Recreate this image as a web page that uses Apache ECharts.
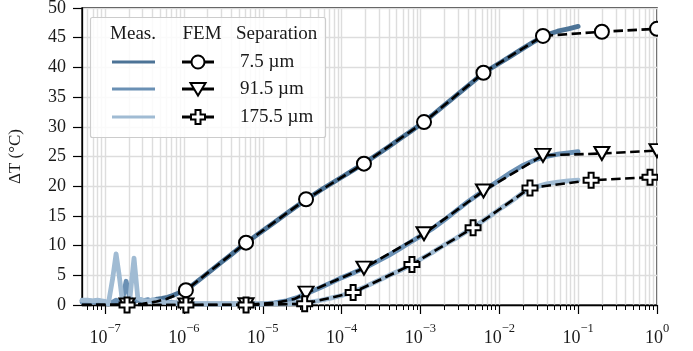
<!DOCTYPE html>
<html>
<head>
<meta charset="utf-8">
<script src="https://cdn.jsdelivr.net/npm/echarts@6/dist/echarts.min.js"></script>
<style>
html,body{margin:0;padding:0;background:#fff;}
#chart{width:693px;height:351px;}
</style>
</head>
<body>
<div id="chart"></div>
<script>
// ---------------- data ----------------
const xMin = 5.1e-8;
const xMax = 1;
const majorTicks = [1e-7, 1e-6, 1e-5, 1e-4, 1e-3, 1e-2, 1e-1, 1];
const yTicksMax = 50;

const headerLabels = ['Meas.', 'FEM', 'Separation'];
const sepLabels = ['7.5 µm', '91.5 µm', '175.5 µm'];

// measurement time grid (s)
const measT = [5.1e-8, 6e-8, 7e-8, 8e-8, 9e-8, 1.0e-7, 1.1e-7, 1.25e-7, 1.38e-7, 1.5e-7,
  1.65e-7, 1.85e-7, 2.05e-7, 2.33e-7, 2.6e-7, 3e-7, 3.5e-7, 4e-7, 4.6e-7, 5.3e-7,
  6.2e-7, 7.2e-7, 8.5e-7, 1.0e-6, 1.3e-6, 1.7e-6, 2.2e-6, 3e-6, 4e-6, 5.5e-6,
  7.5e-6, 1e-5, 1.4e-5, 2e-5, 2.8e-5, 4e-5, 5.5e-5, 7.5e-5, 1e-4, 1.4e-4,
  2e-4, 2.8e-4, 4e-4, 5.5e-4, 7.5e-4, 1e-3, 1.4e-3, 2e-3, 2.8e-3, 4e-3,
  5.5e-3, 7.5e-3, 1e-2, 1.4e-2, 2e-2, 2.8e-2, 4e-2, 5.5e-2, 7.5e-2, 1e-1];

const meas7 = [0.7, 0.7, 0.6, 0.7, 0.6, 0.5, 0.2, 0.3, 0.4, 0.6,
  0.5, 0.8, 0.4, 0.5, 0.9, 0.6, 0.8, 0.7, 1.0, 1.1,
  1.3, 1.6, 2.0, 2.3, 3.4, 4.6, 5.8, 7.2, 8.5, 10.0,
  11.3, 12.5, 13.9, 15.4, 16.8, 18.2, 19.4, 20.5, 21.5, 22.7,
  24.0, 25.3, 26.7, 28.0, 29.2, 30.4, 31.9, 33.6, 35.2, 36.9,
  38.4, 39.7, 40.7, 41.9, 43.2, 44.4, 45.5, 46.1, 46.5, 46.9];

const meas91 = [0.5, 0.6, 0.5, 0.5, 0.4, 0.3, 0.2, 0.5, 0.8, 0.6,
  0.6, 4.0, 1.2, 0.6, 1.0, 0.7, 0.9, 0.6, 0.8, 0.6,
  0.5, 0.4, 0.3, 0.3, 0.2, 0.2, 0.2, 0.2, 0.2, 0.2,
  0.2, 0.2, 0.35, 0.7, 1.3, 2.2, 3.0, 3.8, 4.6, 5.4,
  6.3, 7.3, 8.4, 9.5, 10.6, 11.6, 12.8, 14.3, 15.8, 17.4,
  18.7, 19.9, 21.0, 22.3, 23.5, 24.4, 25.0, 25.4, 25.6, 25.8];

const meas175 = [0.8, 0.8, 0.7, 0.8, 0.7, 0.6, 0.2, 4.5, 8.6, 5.3,
  0.9, 0.6, 0.7, 7.9, 1.2, 0.8, 0.6, 0.9, 0.7, 0.5,
  0.4, 0.3, 0.2, 0.2, 0.2, 0.2, 0.2, 0.2, 0.2, 0.2,
  0.2, 0.2, 0.2, 0.2, 0.3, 0.5, 0.8, 1.2, 1.6, 2.2,
  3.1, 4.0, 5.0, 5.8, 6.7, 7.7, 8.8, 10.1, 11.2, 12.5,
  13.7, 14.9, 16.1, 17.4, 18.9, 19.8, 20.4, 20.7, 20.9, 21.0];

// FEM simulations
const femT7 = [5.1e-8, 1.9e-7, 3e-7, 4.5e-7, 6e-7, 8e-7, 1.06e-6, 6.14e-6, 3.54e-5, 1.92e-4, 1.11e-3, 6.3e-3, 0.0358, 0.2, 1];
const fem7  = [0, 0.05, 0.2, 0.6, 1.0, 1.7, 2.5, 10.5, 17.8, 23.8, 30.8, 39.1, 45.3, 46.0, 46.5];
const mark7 = [6, 7, 8, 9, 10, 11, 12, 13, 14];

const femT91 = [5.1e-8, 1.9e-7, 1.06e-6, 6.14e-6, 1.5e-5, 2.5e-5, 3.54e-5, 1.92e-4, 1.11e-3, 6.3e-3, 0.0358, 0.2, 1];
const fem91  = [0, 0, 0, 0.05, 0.4, 1.0, 2.0, 6.2, 12.0, 19.2, 25.2, 25.5, 26.0];
const mark91 = [1, 2, 3, 6, 7, 8, 9, 10, 11, 12];

const femT175 = [5.1e-8, 1.9e-7, 1.06e-6, 6.14e-6, 3.4e-5, 1.4e-4, 7.8e-4, 4.65e-3, 0.0245, 0.146, 0.815, 1];
const fem175  = [0, 0, 0, 0, 0.2, 2.1, 6.8, 13.0, 19.7, 21.0, 21.5, 21.5];
const mark175 = [1, 2, 3, 4, 5, 6, 7, 8, 9, 10];

// ---------------- styling ----------------
const FONT = '"Liberation Serif", "DejaVu Serif", serif';
const colMeas = ['#4c7396', '#6a90b4', '#a0bbd3'];
const PLUS = 'path://M-1,-3L1,-3L1,-1L3,-1L3,1L1,1L1,3L-1,3L-1,1L-3,1L-3,-1L-1,-1Z';
const symDefs = [
  { symbol: 'circle', size: 14, rotate: 0 },
  { symbol: 'triangle', size: [15, 13], rotate: 180 },
  { symbol: PLUS, size: 15, rotate: 0 }
];

const minorTicks = [];
majorTicks.concat([1e-8]).forEach(function (m) {
  for (let k = 2; k <= 9; k++) {
    const v = m * k;
    if (v >= xMin && v <= xMax) minorTicks.push(v);
  }
});
const allTicks = minorTicks.concat(majorTicks).sort(function (a, b) { return a - b; });

function measSeries(vals, color) {
  return {
    type: 'line', xAxisIndex: 0, yAxisIndex: 0,
    data: measT.map(function (t, i) { return [t, vals[i]]; }),
    showSymbol: false, smooth: false, clip: true,
    lineStyle: { color: color, width: 4.8, cap: 'round', join: 'round' },
    z: 2, silent: true
  };
}
function femSeries(ts, vals, marks, def, zz) {
  return {
    type: 'line', xAxisIndex: 0, yAxisIndex: 0,
    data: ts.map(function (t, i) {
      const isMark = marks.indexOf(i) >= 0;
      return {
        value: [t, vals[i]],
        symbol: isMark ? def.symbol : 'none',
        symbolSize: isMark ? def.size : 0,
        symbolRotate: def.rotate
      };
    }),
    showSymbol: true, showAllSymbol: true, clip: true,
    lineStyle: { color: '#000', width: 2.6, type: [9.5, 4.5] },
    itemStyle: { color: '#ffffff', borderColor: '#000', borderWidth: 2 },
    z: zz, silent: true
  };
}

// ---------------- legend (graphic) ----------------
const LX = 90.5, LY = 17.5, LW = 235, LH = 120;
const rowY = [62, 89, 117];
const LFONT = '19px ' + FONT;
const graphics = [
  // mask markers that spill past the right frame edge
  { type: 'rect', shape: { x: 658, y: 0, width: 40, height: 304 }, style: { fill: '#ffffff' }, z: 90 },
  { type: 'rect', shape: { x: LX, y: LY, width: LW, height: LH, r: 2 },
    style: { fill: 'rgba(255,255,255,0.85)', stroke: '#cccccc', lineWidth: 1.2 }, z: 100 },
  { type: 'text', x: 133, y: 34, style: { text: headerLabels[0], font: LFONT, fill: '#1a1a1a', textAlign: 'center', textVerticalAlign: 'middle' }, z: 101 },
  { type: 'text', x: 202, y: 34, style: { text: headerLabels[1], font: LFONT, fill: '#1a1a1a', textAlign: 'center', textVerticalAlign: 'middle' }, z: 101 },
  { type: 'text', x: 236, y: 34, style: { text: headerLabels[2], font: LFONT, fill: '#1a1a1a', textAlign: 'left', textVerticalAlign: 'middle' }, z: 101 }
];
rowY.forEach(function (y, i) {
  graphics.push({ type: 'line', shape: { x1: 112, y1: y, x2: 155, y2: y }, style: { stroke: colMeas[i], lineWidth: 3.2 }, z: 101 });
  graphics.push({ type: 'line', shape: { x1: 182, y1: y, x2: 214, y2: y }, style: { stroke: '#000', lineWidth: 3 }, z: 101 });
  graphics.push({ type: 'text', x: 240, y: y, style: { text: sepLabels[i], font: LFONT, fill: '#1a1a1a', textAlign: 'left', textVerticalAlign: 'middle' }, z: 101 });
});
graphics.push({ type: 'circle', shape: { cx: 198, cy: rowY[0], r: 6.5 }, style: { fill: '#fff', stroke: '#000', lineWidth: 2 }, z: 102 });
graphics.push({ type: 'polygon', shape: { points: [[190.5, rowY[1] - 6], [205.5, rowY[1] - 6], [198, rowY[1] + 6.5]] }, style: { fill: '#fff', stroke: '#000', lineWidth: 2 }, z: 102 });
(function () {
  const c = 198, y = rowY[2], a = 2.5, b = 7;
  graphics.push({ type: 'polygon', shape: { points: [
    [c - a, y - b], [c + a, y - b], [c + a, y - a], [c + b, y - a], [c + b, y + a], [c + a, y + a],
    [c + a, y + b], [c - a, y + b], [c - a, y + a], [c - b, y + a], [c - b, y - a], [c - a, y - a]] },
    style: { fill: '#fff', stroke: '#000', lineWidth: 2 }, z: 102 });
})();

// ---------------- chart ----------------
const chart = echarts.init(document.getElementById('chart'), null, { renderer: 'canvas' });
const supFmt = function (v) {
  const e = Math.round(Math.log10(v));
  return '{b|10}{s|' + (e < 0 ? '\u2212' + (-e) : String(e)) + '}';
};
chart.setOption({
  animation: false,
  backgroundColor: '#ffffff',
  grid: { left: 82, right: 36, top: 8, bottom: 46, show: true, containLabel: false, outerBoundsMode: 'none',
    borderColor: '#000', borderWidth: 1.3, backgroundColor: 'transparent' },
  xAxis: [
    {
      type: 'log', logBase: 10, min: xMin, max: xMax, position: 'bottom',
      axisLine: { show: true, lineStyle: { color: '#000', width: 1.3 } },
      axisTick: { show: true, inside: false, length: 9, customValues: majorTicks, lineStyle: { color: '#000', width: 1.2 } },
      axisLabel: {
        show: true, customValues: majorTicks, margin: 17, formatter: supFmt,
        rich: {
          b: { fontFamily: FONT, fontSize: 18, color: '#1a1a1a', lineHeight: 25, verticalAlign: 'bottom' },
          s: { fontFamily: FONT, fontSize: 12.5, color: '#1a1a1a', lineHeight: 25, verticalAlign: 'top' }
        }
      },
      splitLine: { show: false }
    },
    {
      type: 'log', logBase: 10, min: xMin, max: xMax, position: 'bottom',
      axisLine: { show: false },
      axisTick: { show: true, inside: false, length: 5, customValues: allTicks, lineStyle: { color: '#000', width: 1 } },
      axisLabel: { show: false },
      splitLine: { show: true, lineStyle: { color: '#dddddd', width: 1.4 } }
    }
  ],
  yAxis: {
    type: 'value', min: 0, max: yTicksMax, interval: 5,
    name: 'ΔT (°C)', nameLocation: 'middle', nameGap: 58,
    nameTextStyle: { fontFamily: FONT, fontSize: 17, color: '#1a1a1a' },
    axisLine: { show: true, lineStyle: { color: '#000', width: 1.3 } },
    axisTick: { show: true, inside: false, length: 9, lineStyle: { color: '#000', width: 1.2 } },
    axisLabel: { fontFamily: FONT, fontSize: 18, color: '#1a1a1a', margin: 16 },
    splitLine: { show: true, lineStyle: { color: '#dddddd', width: 1.4 } }
  },
  graphic: graphics,
  series: [
    measSeries(meas7, colMeas[0]),
    measSeries(meas91, colMeas[1]),
    measSeries(meas175, colMeas[2]),
    femSeries(femT7, fem7, mark7, symDefs[0], 3),
    femSeries(femT91, fem91, mark91, symDefs[1], 4),
    femSeries(femT175, fem175, mark175, symDefs[2], 5)
  ]
});
</script>
</body>
</html>
